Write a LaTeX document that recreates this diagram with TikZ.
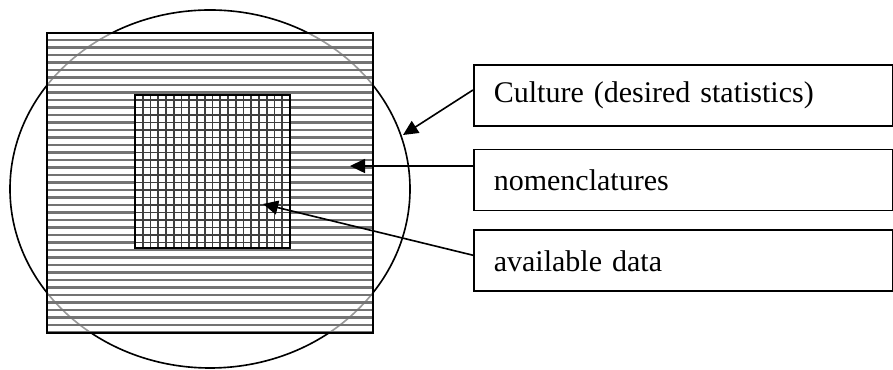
\documentclass[tikz,border=0pt]{standalone}
\usepackage{fontspec}
\setmainfont{Liberation Serif}
\usepackage{tikz}
\usetikzlibrary{positioning}
\usetikzlibrary{arrows.meta}

\begin{document}
\begin{tikzpicture}[x=0.4pt,y=-0.4pt,
    hatch/.style={black!55,line width=1pt},
    mesh/.style={black!75,line width=0.7pt},
    labelbox/.style={draw,line width=0.65pt,minimum width=167.6pt,minimum height=24.4pt,
        text width=151.6pt,inner xsep=8pt,align=left,anchor=west,
        font=\fontsize{12}{14}\selectfont},
    pointer/.style={-{Triangle[length=6pt,width=5.6pt]},line width=0.65pt}]

    \useasboundingbox (0,0) rectangle (893,370);

    \draw[line width=0.65pt] (210,189) ellipse (200 and 179);

    % striped square
    \fill[white,opacity=0.6] (47,33) rectangle (373,333);
\foreach \y in {40,47.5,...,333}
{
    \draw[hatch] (47,\y) -- (373,\y);
}
    \draw[line width=0.75pt] (47,33) rectangle (373,333);

    % grid square
    \fill[white] (135,95) rectangle (290,248);
\foreach \x in {142.75,150.5,...,283}
{
    \draw[mesh] (\x,95) -- (\x,248);
}
\foreach \y in {100,107.5,...,245}
{
    \draw[mesh] (135,\y) -- (290,\y);
}
    \draw[line width=0.8pt] (135,95) rectangle (290,248);

    \node[labelbox] (culture) at (473,95.5) {Culture (desired statistics)};
    \node[labelbox,below=8.8pt of culture] (nomen) {nomenclatures};
    \node[labelbox,below=7.2pt of nomen] (avail) {available data};

    \coordinate (rim) at (403,135);
    \coordinate (band) at (350,166);
    \coordinate (core) at (263,204);

    \draw[pointer] ([yshift=2.2pt]culture.west) -- (rim);
    \draw[pointer] (nomen.west |- band) -- (band);
    \draw[pointer] ([yshift=2.2pt]avail.west) -- (core);

\end{tikzpicture}
\end{document}
